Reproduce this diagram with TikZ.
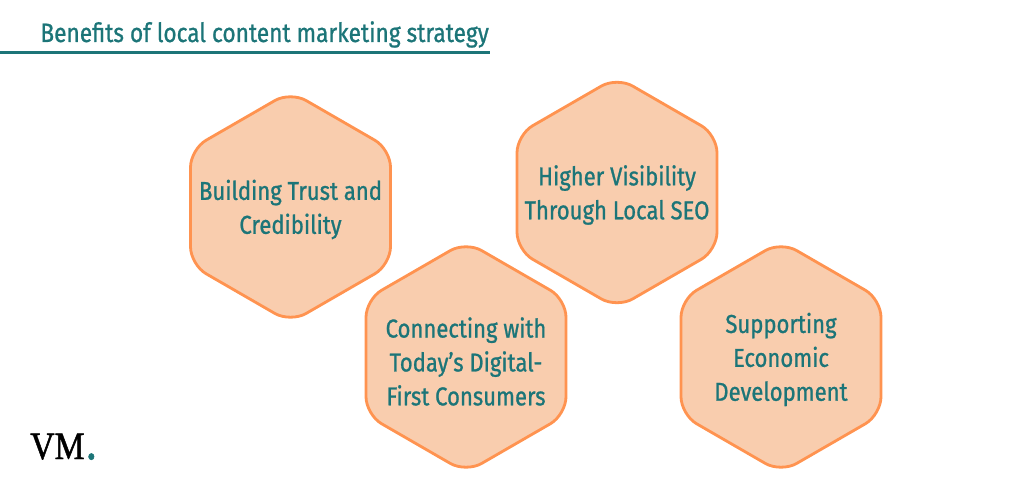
\documentclass[tikz,border=0pt]{standalone}
\usepackage{fontspec}
\setmainfont[FakeStretch=.855,FakeBold=.9]{Fira Sans}
\newfontfamily\logofont[FakeStretch=.87,FakeBold=1.2]{Liberation Serif}
\usetikzlibrary{shapes.geometric}
\definecolor{tealtext}{HTML}{1C7578}
\definecolor{hexfill}{HTML}{F9CDAE}
\definecolor{hexline}{HTML}{FF9350}
\tikzset{
	hexa/.style={regular polygon,regular polygon sides=6,shape border rotate=30,minimum size=4.62cm,inner sep=0pt,outer sep=0pt,
		draw=hexline,fill=hexfill,line width=1.6pt,rounded corners=.36cm},
	hexatext/.style={align=center,text=tealtext,font=\fontsize{14.7}{19.3}\selectfont,inner sep=0pt},
}
\begin{document}
\begin{tikzpicture}[x=.02cm,y=-.02cm]
	\useasboundingbox (0,0) rectangle (1024,500);
	\coordinate (rulestart) at (0,52.5);
	\coordinate (ruleend) at (490,52.5);
	\draw[tealtext,line width=1.3pt] (rulestart) -- (ruleend);
	\node[anchor=base west,inner sep=0pt,text=tealtext,font=\fontsize{15.1}{18}\selectfont] (title) at (40,42) {Benefits of local content marketing strategy};

	\foreach \p/\n/\s/\t in {{290.5,207}/trust/-.05cm/{Building Trust and\\Credibility},
		{617,192.5}/visibility/-.05cm/{Higher Visibility\\Through Local SEO},
		{466,357}/digital/-.09cm/{Connecting with\\Today’s Digital-\\First Consumers},
		{781,357}/economic/-.05cm/{Supporting\\Economic\\Development}}
		\node[hexa,label={[hexatext,yshift=\s]center:\t}] (\n) at (\p) {};

	\node[anchor=base west,inner sep=0pt,font=\logofont\fontsize{22}{22}\selectfont] (logo) at (30,459) {VM\textcolor{tealtext}{\hspace{.6pt}\fontsize{30}{30}\selectfont.}};
\end{tikzpicture}
\end{document}
